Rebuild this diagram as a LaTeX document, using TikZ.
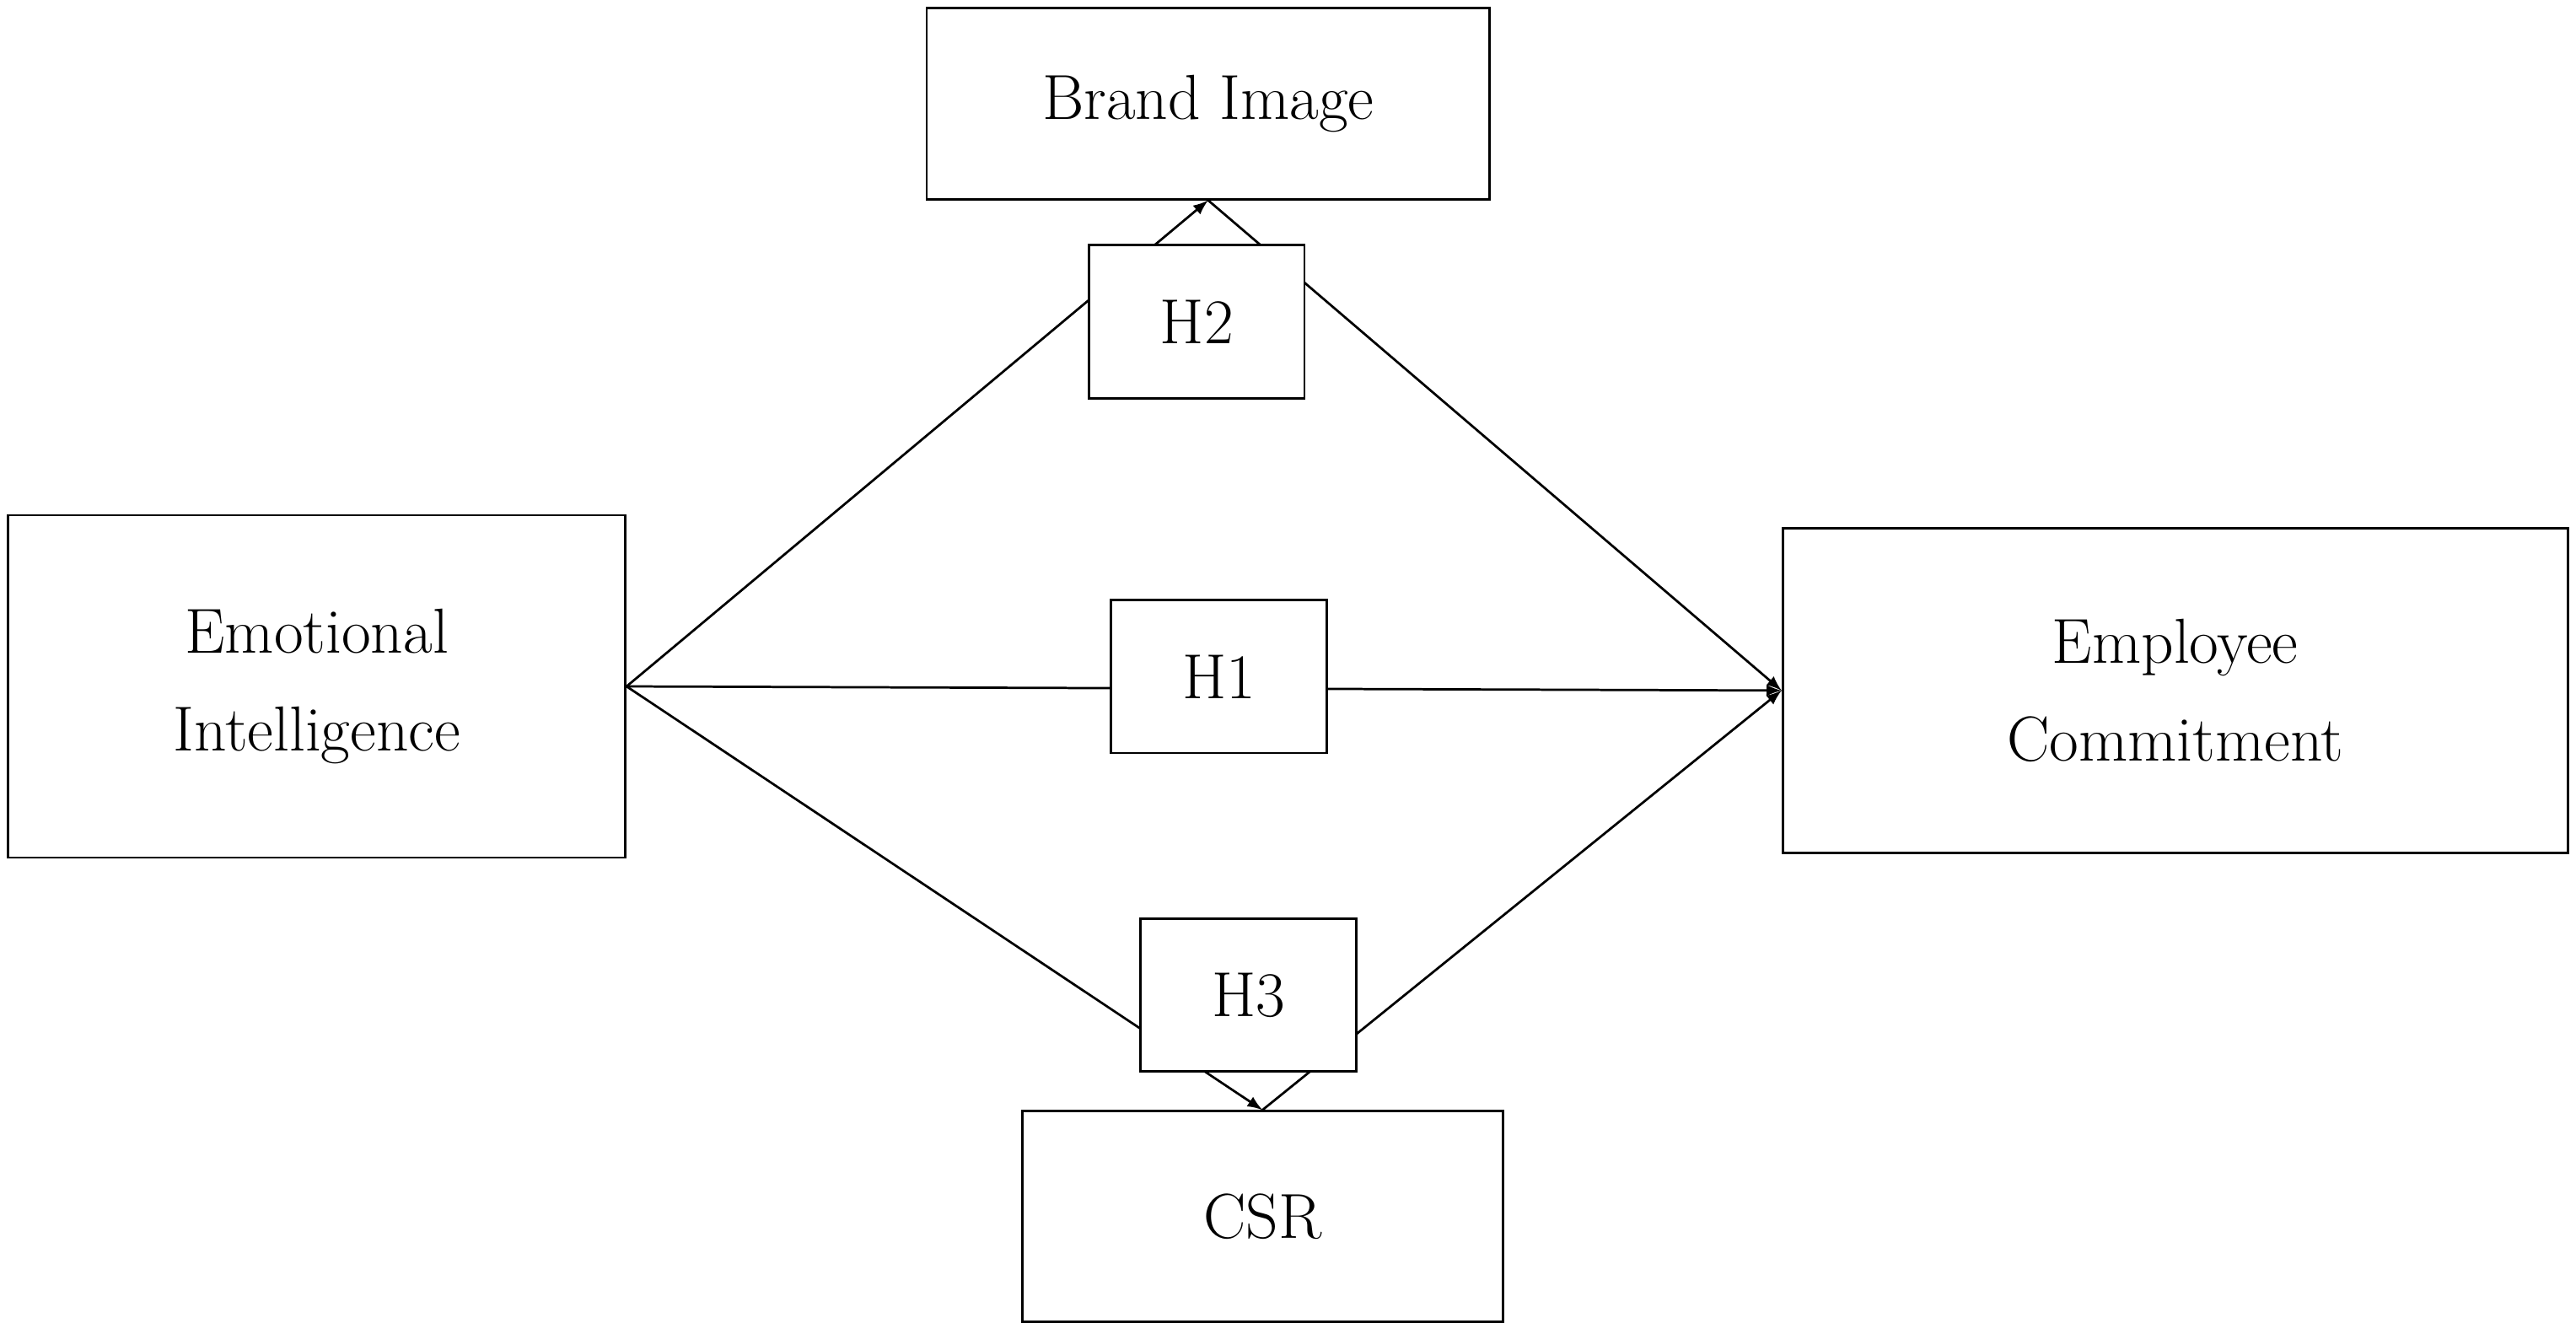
\documentclass[tikz,border=0pt]{standalone}
\usetikzlibrary{arrows,positioning}
\begin{document}
\begin{tikzpicture}[x=0.02cm,y=-0.02cm,>=latex,thick,
    var node/.style={rectangle,draw,fill=white,align=center,font=\fontsize{22}{34}\selectfont},
    hyp node/.style={var node,minimum width=2.62cm,minimum height=1.86cm}]
  \useasboundingbox (0,0) rectangle (1565,810);
  \node[var node,minimum width=6.84cm,minimum height=2.32cm] (bi) at (734,63) {Brand Image};
  \node[var node,minimum width=7.5cm,minimum height=4.16cm] (ei) at (192.5,417) {Emotional\\Intelligence};
  \node[var node,minimum width=9.54cm,minimum height=3.94cm] (ec) at (1321.5,419.5) {Employee\\Commitment};
  \node[var node,minimum width=5.84cm,minimum height=2.56cm] (csr) at (767,739) {CSR};

  \draw[->] (ei.east) -- (bi.south);
  \draw[->] (bi.south) -- (ec.west);
  \draw[->] (ei.east) -- (ec.west);
  \draw[->] (ei.east) -- (csr.north);
  \draw[->] (csr.north) -- (ec.west);

  \node[hyp node] (h2) at (727,195.5) {H2};
  \node[hyp node] (h1) at (740.5,411) {H1};
  \node[hyp node] (h3) at (758.5,604.5) {H3};
\end{tikzpicture}
\end{document}
